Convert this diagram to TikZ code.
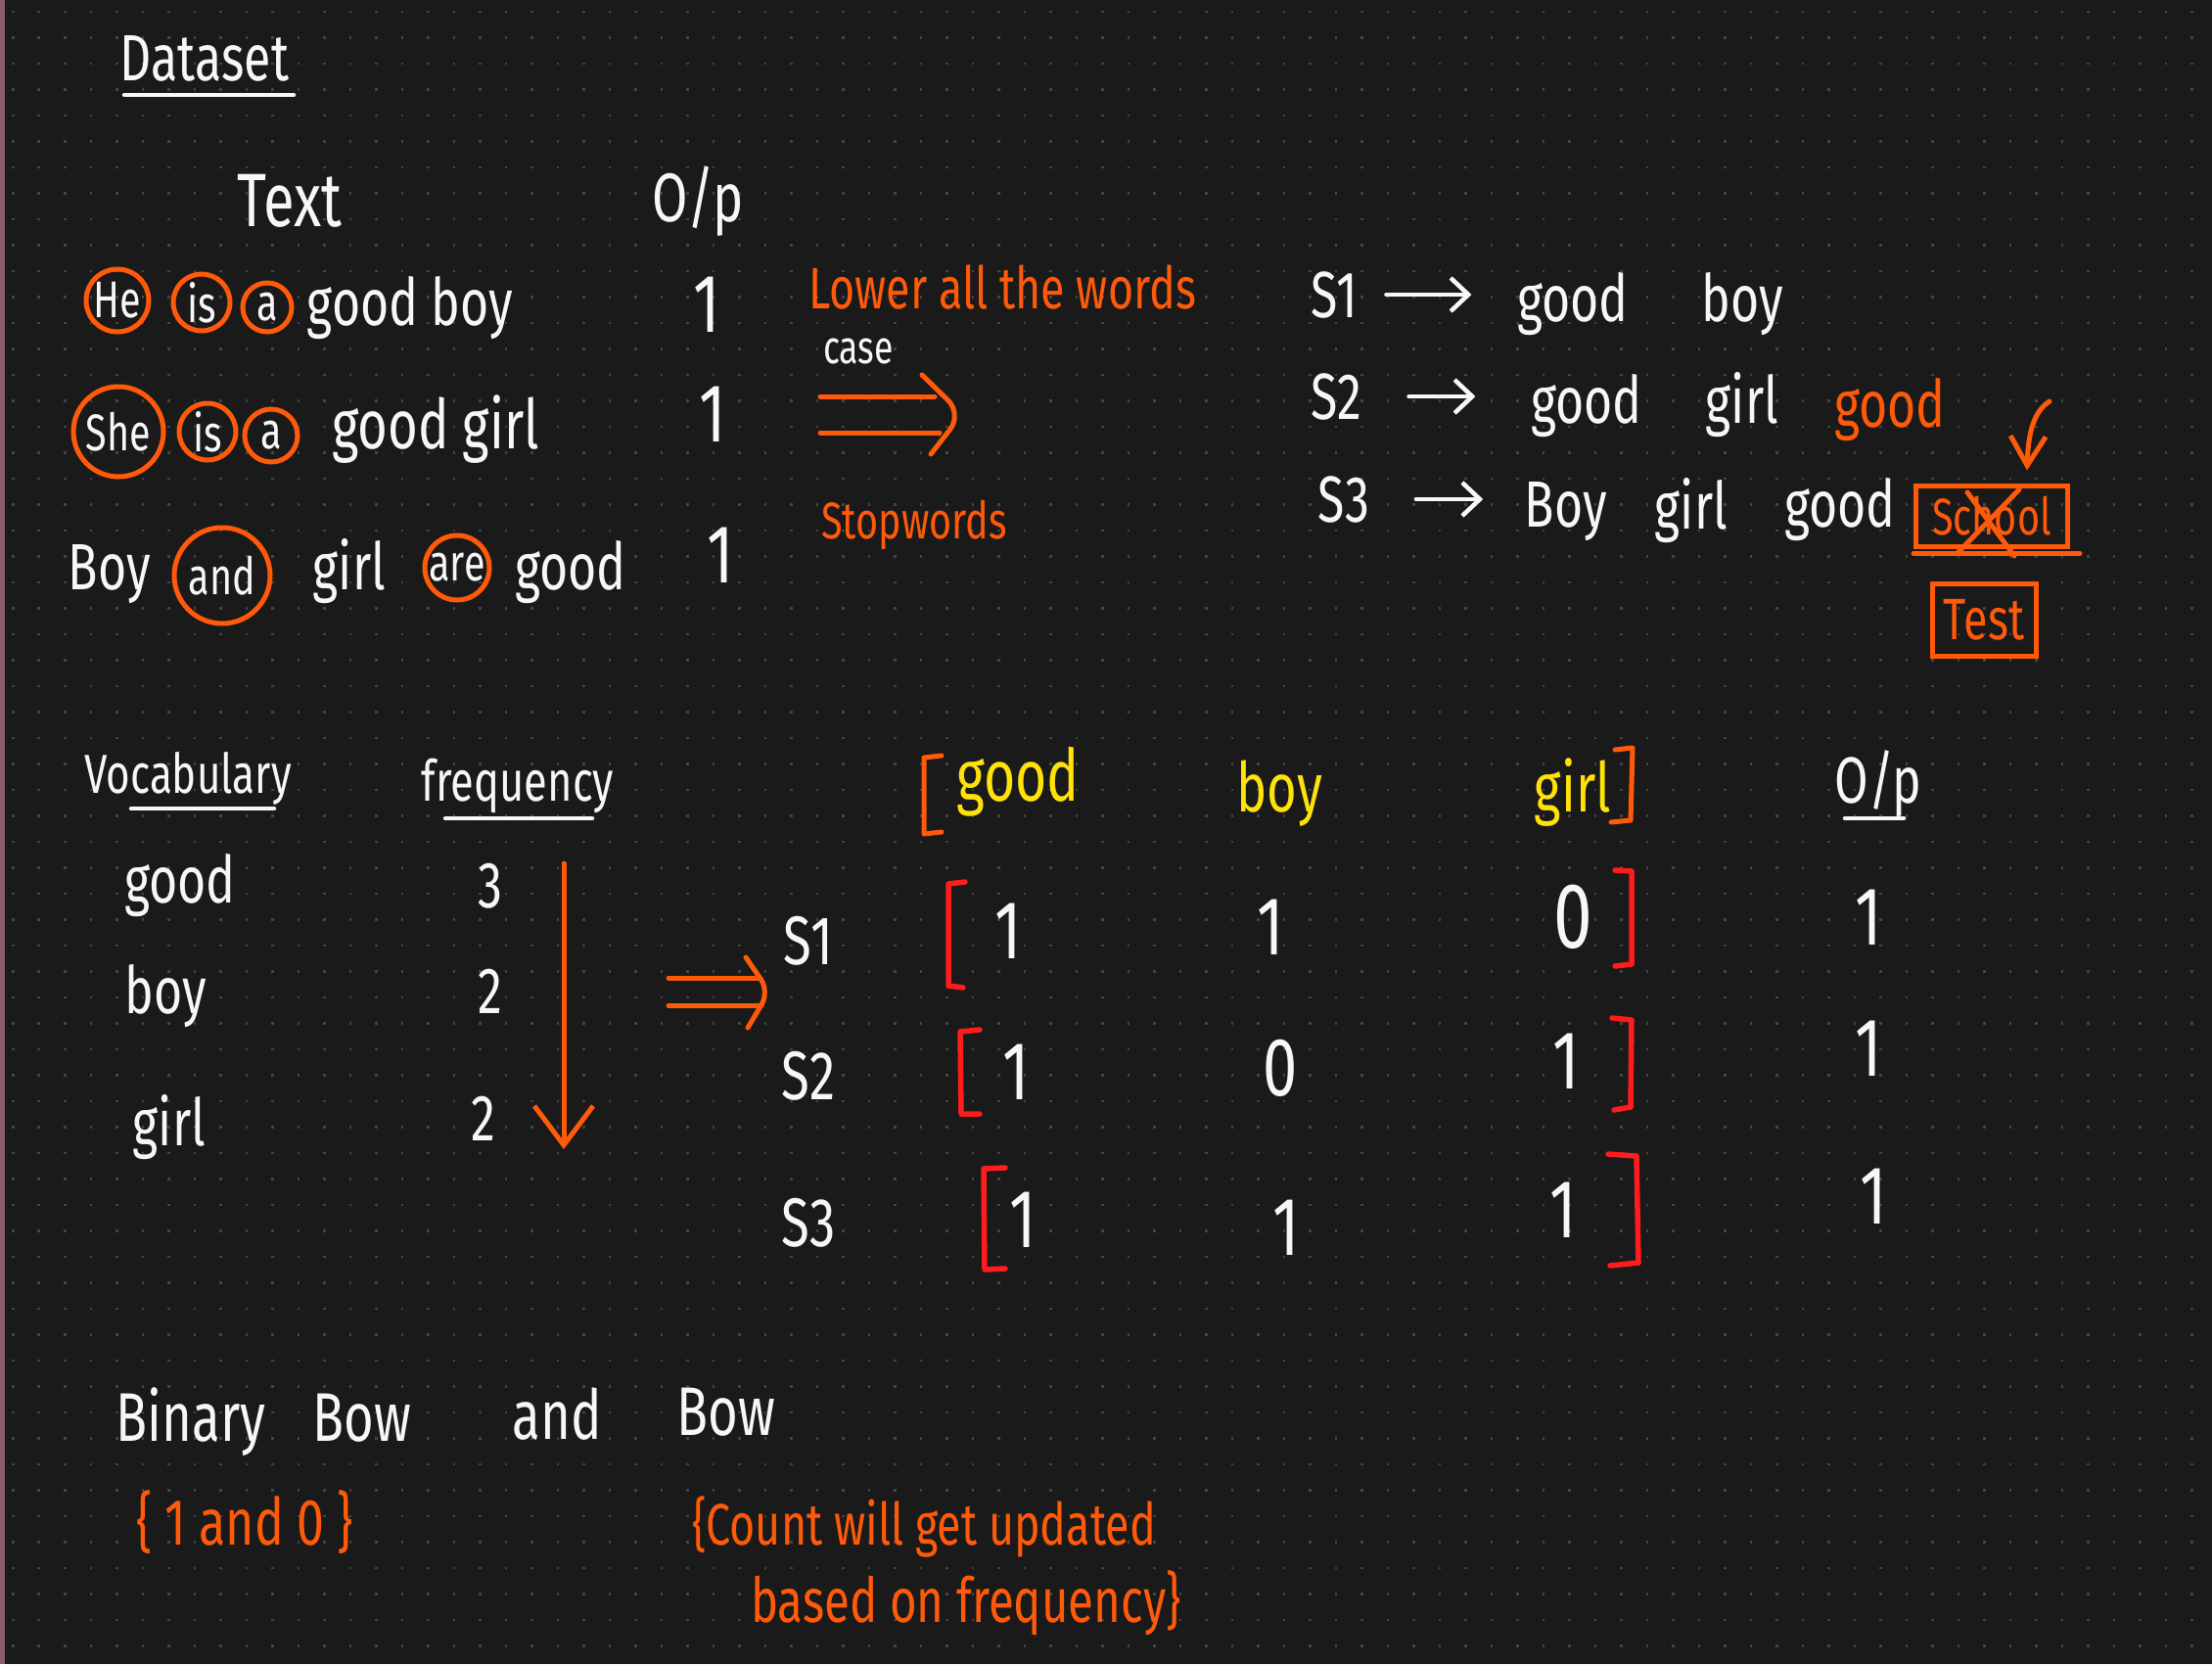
\documentclass[tikz,border=0pt]{standalone}
\usepackage{fontspec}
\setmainfont{Fira Sans}[FakeStretch=0.75]
\usetikzlibrary{arrows.meta,calc}
\definecolor{bgc}{HTML}{1A1A1A}
\definecolor{dotc}{HTML}{444444}
\definecolor{og}{HTML}{FF5A0A}
\definecolor{rd}{HTML}{FF1C1C}
\definecolor{yl}{HTML}{FFE20A}
\definecolor{ink}{HTML}{F7F7F7}
\definecolor{edgec}{HTML}{8A5A6E}
\newcommand{\fsz}[1]{\fontsize{#1}{#1}\selectfont}
\begin{document}
\begin{tikzpicture}[
  wt/.style={text=ink, inner sep=0pt, font=\fsz{19}},
  ot/.style={text=og, inner sep=0pt, font=\fsz{17}},
  yt/.style={text=yl, inner sep=0pt, font=\fsz{20}},
  num/.style={text=ink, inner sep=0pt, font=\fsz{24}},
  cw/.style={circle, draw=og, line width=0.5mm, inner sep=0pt, text=ink, font=\fsz{15}},
  penw/.style={draw=ink, line width=0.45mm, line cap=round, line join=round},
  peno/.style={draw=og, line width=0.5mm, line cap=round, line join=round},
  penr/.style={draw=rd, line width=0.55mm, line cap=round, line join=round},
  barb/.style={-{Straight Barb[length=1.8mm,width=3.4mm]}},
  tagbox/.style={draw=og, line width=0.5mm, rectangle, inner sep=0pt, text=og, font=\fsz{15}},
]
% background and dot grid
\fill[bgc] (0,0) rectangle (22.6,-17);
\useasboundingbox (0,0) rectangle (22.6,-17);
\foreach \j in {0,...,63}{
  \draw[dotc, line width=0.28mm, dash pattern=on 0.28mm off 2.37mm] (0.12,{-0.12-0.265*\j}) -- (22.6,{-0.12-0.265*\j});
}
\draw[edgec, line width=0.5mm] (0.025,0) -- (0.025,-17);

% ---------- Dataset ----------
\node[wt, anchor=base] (ds) at (2.09,-0.82) {Dataset};
\draw[penw] (1.27,-0.97) -- (3.00,-0.97);
\node[wt, font=\fsz{22}, anchor=base] (txt) at (2.96,-2.31) {Text};
\node[wt, font=\fsz{20}, anchor=base] (op) at (7.13,-2.26) {O/p};

% row 1
\node[cw, minimum size=0.64cm] (c11) at (1.20,-3.07) {He};
\node[cw, minimum size=0.58cm] (c12) at (2.06,-3.09) {is};
\node[cw, minimum size=0.50cm] (c13) at (2.73,-3.14) {a};
\node[wt, anchor=base] (r1) at (4.19,-3.32) {good boy};
\node[num, anchor=base] (o1) at (7.22,-3.39) {1};
% row 2
\node[cw, minimum size=0.92cm] (c21) at (1.21,-4.41) {She};
\node[cw, minimum size=0.58cm] (c22) at (2.12,-4.41) {is};
\node[cw, minimum size=0.54cm] (c23) at (2.77,-4.45) {a};
\node[wt, font=\fsz{20}, anchor=base] (r2) at (4.45,-4.58) {good girl};
\node[num, anchor=base] (o2) at (7.28,-4.51) {1};
% row 3
\node[wt, anchor=base] (r3a) at (1.12,-6.02) {Boy};
\node[cw, minimum size=0.98cm] (c31) at (2.27,-5.88) {and};
\node[wt, anchor=base] (r3b) at (3.57,-6.02) {girl};
\node[cw, minimum size=0.66cm] (c32) at (4.67,-5.80) {are};
\node[wt, anchor=base] (r3c) at (5.83,-6.02) {good};
\node[num, anchor=base] (o3) at (7.36,-5.95) {1};

% ---------- preprocessing ----------
\node[ot, anchor=base] (low) at (10.24,-3.15) {Lower all the words};
\node[wt, font=\fsz{13.5}, anchor=base] (case) at (8.77,-3.71) {case};
\draw[peno] (8.38,-4.05) -- (9.55,-4.05) (8.38,-4.42) -- (9.60,-4.42);
\draw[peno, rounded corners=2mm] (9.42,-3.83) -- (9.83,-4.23) -- (9.51,-4.64);
\node[ot, font=\fsz{15}, anchor=base] (stop) at (9.34,-5.50) {Stopwords};

% ---------- sentences ----------
\node[wt, anchor=base] (s1) at (13.63,-3.24) {S1};
\node[wt, anchor=base] (s1a) at (16.07,-3.28) {good};
\node[wt, anchor=base] (s1b) at (17.80,-3.28) {boy};
\draw[penw, barb, shorten <=0.29cm, shorten >=0.46cm] (s1.east) -- (s1.east -| s1a.west);

\node[wt, anchor=base] (s2) at (13.65,-4.28) {S2};
\node[wt, anchor=base] (s2a) at (16.21,-4.32) {good};
\node[wt, anchor=base] (s2b) at (17.80,-4.32) {girl};
\node[ot, font=\fsz{19}, anchor=base] (s2c) at (19.31,-4.36) {good};
\draw[penw, barb, shorten <=0.48cm, shorten >=0.56cm] (s2.east) -- (s2.east -| s2a.west);

\node[wt, anchor=base] (s3) at (13.73,-5.33) {S3};
\node[wt, anchor=base] (s3a) at (16.00,-5.38) {Boy};
\node[wt, anchor=base] (s3b) at (17.28,-5.40) {girl};
\node[wt, anchor=base] (s3c) at (18.80,-5.38) {good};
\draw[penw, barb, shorten <=0.47cm, shorten >=0.42cm] (s3.east) -- (s3.east -| s3a.west);

\node[tagbox, minimum width=1.55cm, minimum height=0.62cm] (school) at (20.35,-5.27) {School};
\draw[peno] ([yshift=-0.05cm]school.south west) -- ([xshift=0.1cm,yshift=-0.05cm]school.south east);
\draw[peno] (20.00,-5.65) -- (20.63,-5.00) (20.10,-5.03) -- (20.58,-5.68);
\node[tagbox, font=\fsz{17}, minimum width=1.06cm, minimum height=0.74cm] (test) at (20.27,-6.33) {Test};
\coordinate (cs) at (20.94,-4.10);
\draw[peno, -{Straight Barb[length=3mm,width=3.6mm]}] (cs) .. controls (20.75,-4.22) and (20.72,-4.50) .. ($(school.north)+(0.36,0.13)$);

% ---------- vocabulary ----------
\node[wt, font=\fsz{16}, anchor=base] (voc) at (1.92,-8.10) {Vocabulary};
\draw[penw] (1.34,-8.26) -- (2.80,-8.26);
\node[wt, font=\fsz{16.5}, anchor=base] (frq) at (5.29,-8.18) {frequency};
\draw[penw] (4.55,-8.36) -- (6.05,-8.36);
\node[wt, anchor=base] (v1) at (1.84,-9.22) {good};
\node[wt, anchor=base] (v2) at (1.69,-10.35) {boy};
\node[wt, anchor=base] (v3) at (1.73,-11.70) {girl};
\node[wt] (f1) at (5.01,-9.05) {3};
\node[wt] (f2) at (5.01,-10.13) {2};
\node[wt] (f3) at (4.94,-11.43) {2};
\coordinate (dt) at (5.76,-8.82);
\coordinate (db) at (5.76,-11.74);
\draw[peno, -{Straight Barb[length=4mm,width=6mm]}] (dt) -- (db);
\draw[peno] (6.83,-9.99) -- (7.76,-9.99) (6.83,-10.27) -- (7.78,-10.27);
\draw[peno, rounded corners=1.5mm] (7.62,-9.78) -- (7.86,-10.13) -- (7.64,-10.50);

% ---------- matrix ----------
\draw[peno] (9.62,-7.72) -- (9.44,-7.74) -- (9.44,-8.52) -- (9.62,-8.50);
\node[yt, font=\fsz{21}, anchor=base] (hg) at (10.40,-8.18) {good};
\node[yt, anchor=base] (hb) at (13.07,-8.29) {boy};
\node[yt, anchor=base] (hgi) at (16.07,-8.29) {girl};
\draw[peno] (16.50,-7.66) -- (16.68,-7.64) -- (16.66,-8.38) -- (16.46,-8.40);
\node[wt, anchor=base] (hop) at (19.19,-8.20) {O/p};
\draw[penw] (18.85,-8.36) -- (19.45,-8.36);

\node[wt, font=\fsz{20}] (m1) at (8.26,-9.61) {S1};
\node[wt, font=\fsz{20}] (m2) at (8.26,-10.99) {S2};
\node[wt, font=\fsz{20}] (m3) at (8.26,-12.49) {S3};

\draw[penr] (9.86,-9.01) -- (9.69,-9.03) -- (9.69,-10.07) -- (9.84,-10.09);
\node[num] (e11) at (10.30,-9.51) {1};
\node[num] (e12) at (12.98,-9.47) {1};
\node[num, font=\fsz{27}] (e13) at (16.07,-9.37) {0};
\draw[penr] (16.50,-8.89) -- (16.67,-8.90) -- (16.67,-9.85) -- (16.50,-9.87);
\node[num] (p1) at (19.09,-9.37) {1};

\draw[penr] (10.01,-10.52) -- (9.81,-10.54) -- (9.82,-11.38) -- (10.01,-11.38);
\node[num] (e21) at (10.38,-10.95) {1};
\node[num] (e22) at (13.08,-10.91) {0};
\node[num] (e23) at (16.00,-10.84) {1};
\draw[penr] (16.47,-10.40) -- (16.67,-10.42) -- (16.66,-11.31) -- (16.49,-11.34);
\node[num] (p2) at (19.09,-10.71) {1};

\draw[penr] (10.27,-11.93) -- (10.05,-11.94) -- (10.06,-12.97) -- (10.27,-12.96);
\node[num] (e31) at (10.45,-12.46) {1};
\node[num] (e32) at (13.14,-12.54) {1};
\node[num] (e33) at (15.97,-12.36) {1};
\draw[penr] (16.43,-11.79) -- (16.72,-11.81) -- (16.74,-12.90) -- (16.45,-12.93);
\node[num] (p3) at (19.14,-12.22) {1};

% ---------- bottom ----------
\node[wt, font=\fsz{20}, anchor=base] (bb1) at (1.95,-14.72) {Binary};
\node[wt, font=\fsz{20}, anchor=base] (bb2) at (3.70,-14.72) {Bow};
\node[wt, font=\fsz{20}, anchor=base] (bb3) at (5.69,-14.70) {and};
\node[wt, font=\fsz{20}, anchor=base] (bb4) at (7.42,-14.66) {Bow};
\node[ot, font=\fsz{19}, anchor=base] (bin) at (2.50,-15.78) {\{ 1 and 0 \}};
\node[ot, anchor=base] (cnt1) at (9.44,-15.78) {\{Count will get updated};
\node[ot, font=\fsz{18}, anchor=base] (cnt2) at (9.87,-16.57) {based on frequency\}};
\end{tikzpicture}
\end{document}
